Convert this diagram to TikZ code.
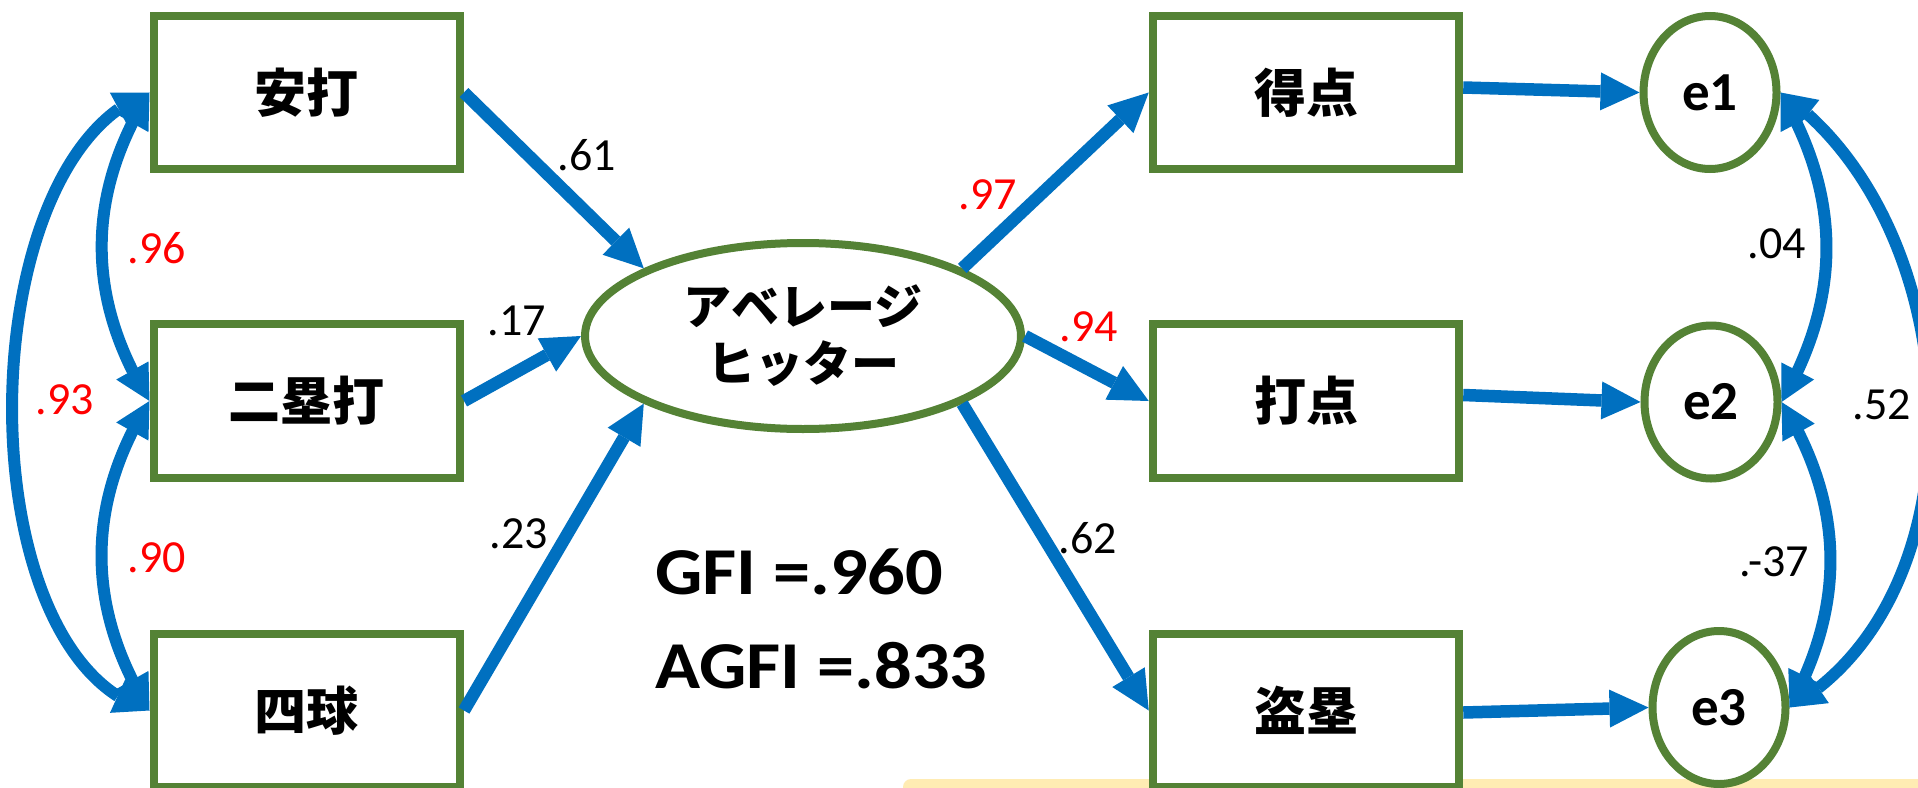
\documentclass[tikz,border=0pt]{standalone}
\usepackage{fontspec}
\newfontfamily\jpfont{Noto Sans CJK JP}
\newfontfamily\labfont{Carlito}
\usetikzlibrary{arrows.meta,bending,shapes.geometric}
\definecolor{grn}{RGB}{84,130,53}
\definecolor{blu}{RGB}{0,112,192}
\definecolor{yel}{RGB}{255,236,179}
\tikzset{
  box/.style={rectangle, draw=grn, line width=8pt, fill=white, minimum width=306.5pt, minimum height=153.5pt, inner sep=0pt, font=\fontsize{52}{60}\selectfont\jpfont\bfseries},
  errnode/.style={ellipse, draw=grn, line width=8pt, fill=white, minimum width=133pt, minimum height=153pt, inner sep=0pt, font=\fontsize{55}{60}\selectfont\labfont\bfseries},
  latent/.style={ellipse, draw=grn, line width=8pt, fill=white, minimum width=436pt, minimum height=186pt, inner sep=0pt, align=center, font=\fontsize{48}{57}\selectfont\jpfont\bfseries},
  patharrow/.style={blu, line width=12.5pt, -{Triangle[length=39pt,width=38pt,line width=0pt]}},
  covarrow/.style={blu, line width=12pt, {Triangle[length=35pt,width=37pt,line width=0pt]}-{Triangle[length=35pt,width=37pt,line width=0pt]}},
  coef/.style={inner sep=0pt, font=\fontsize{46}{50}\selectfont\labfont},
  rcoef/.style={coef, text=red},
  fit/.style={anchor=base west, inner sep=0pt, font=\fontsize{67}{70}\selectfont\labfont\bfseries}
}
\begin{document}
\begin{tikzpicture}[x=1pt,y=-1pt]
\clip (0,0) rectangle (1918,787);
\fill[white] (0,0) rectangle (1918,787);
\fill[yel, rounded corners=8pt] (903,779) rectangle (1940,820);

\node[box] (anda) at (306.75,92.5) {安打};
\node[box] (niru) at (306.75,401) {二塁打};
\node[box] (shik) at (306.75,710.5) {四球};
\node[latent] (ave) at (803,336) {アベレージ\\ヒッター};
\node[box] (toku) at (1306,92.5) {得点};
\node[box] (daten) at (1306,401) {打点};
\node[box] (tou) at (1306,710.5) {盗塁};
\node[errnode] (e1) at (1710,92.5) {e1};
\node[errnode] (e2) at (1711,402) {e2};
\node[errnode] (e3) at (1719,707.5) {e3};

\draw[patharrow] (anda.east) -- (ave.157);
\draw[patharrow] (niru.east) -- (ave.west);
\draw[patharrow] (shik.east) -- (ave.203);
\draw[patharrow] (ave.23) -- (toku.west);
\draw[patharrow] (ave.east) -- (daten.west);
\draw[patharrow] (ave.-23) -- (tou.west);
\draw[patharrow] ([yshift=5pt]toku.east) -- (e1.west);
\draw[patharrow] ([yshift=6pt]daten.east) -- (e2.west);
\draw[patharrow] ([yshift=-2pt]tou.east) -- (e3.west);

\draw[covarrow] (anda.west) to[bend right=32] (niru.west);
\draw[covarrow] (niru.west) to[bend right=32] (shik.west);
\draw[covarrow] (anda.west) to[out=200,in=164,looseness=0.8] (shik.west);
\draw[covarrow] (e1.east) to[bend left=30] (e2.east);
\draw[covarrow] (e2.east) to[bend left=30] (e3.east);
\draw[covarrow] (e1.east) to[out=-35,in=30,looseness=0.95] (e3.east);

\node[coef] (l61) at (587,155) {.61};
\node[rcoef] (l96) at (157,248) {.96};
\node[rcoef] (l93) at (65,400) {.93};
\node[rcoef] (l90) at (157,558) {.90};
\node[coef] (l17) at (517,321) {.17};
\node[coef] (l23) at (519,534) {.23};
\node[rcoef] (l97) at (988,195) {.97};
\node[rcoef] (l94) at (1089,327) {.94};
\node[coef] (l62) at (1088,538) {.62};
\node[coef] (l04) at (1777,244) {.04};
\node[coef] (l52) at (1882,405) {.52};
\node[coef] (l37) at (1774,562) {.-37};

\node[fit] (gfi) at (655,594) {\scalebox{1.11}[1]{GFI =.960}};
\node[fit] (agfi) at (655,688) {\scalebox{1.11}[1]{AGFI =.833}};
\end{tikzpicture}
\end{document}
